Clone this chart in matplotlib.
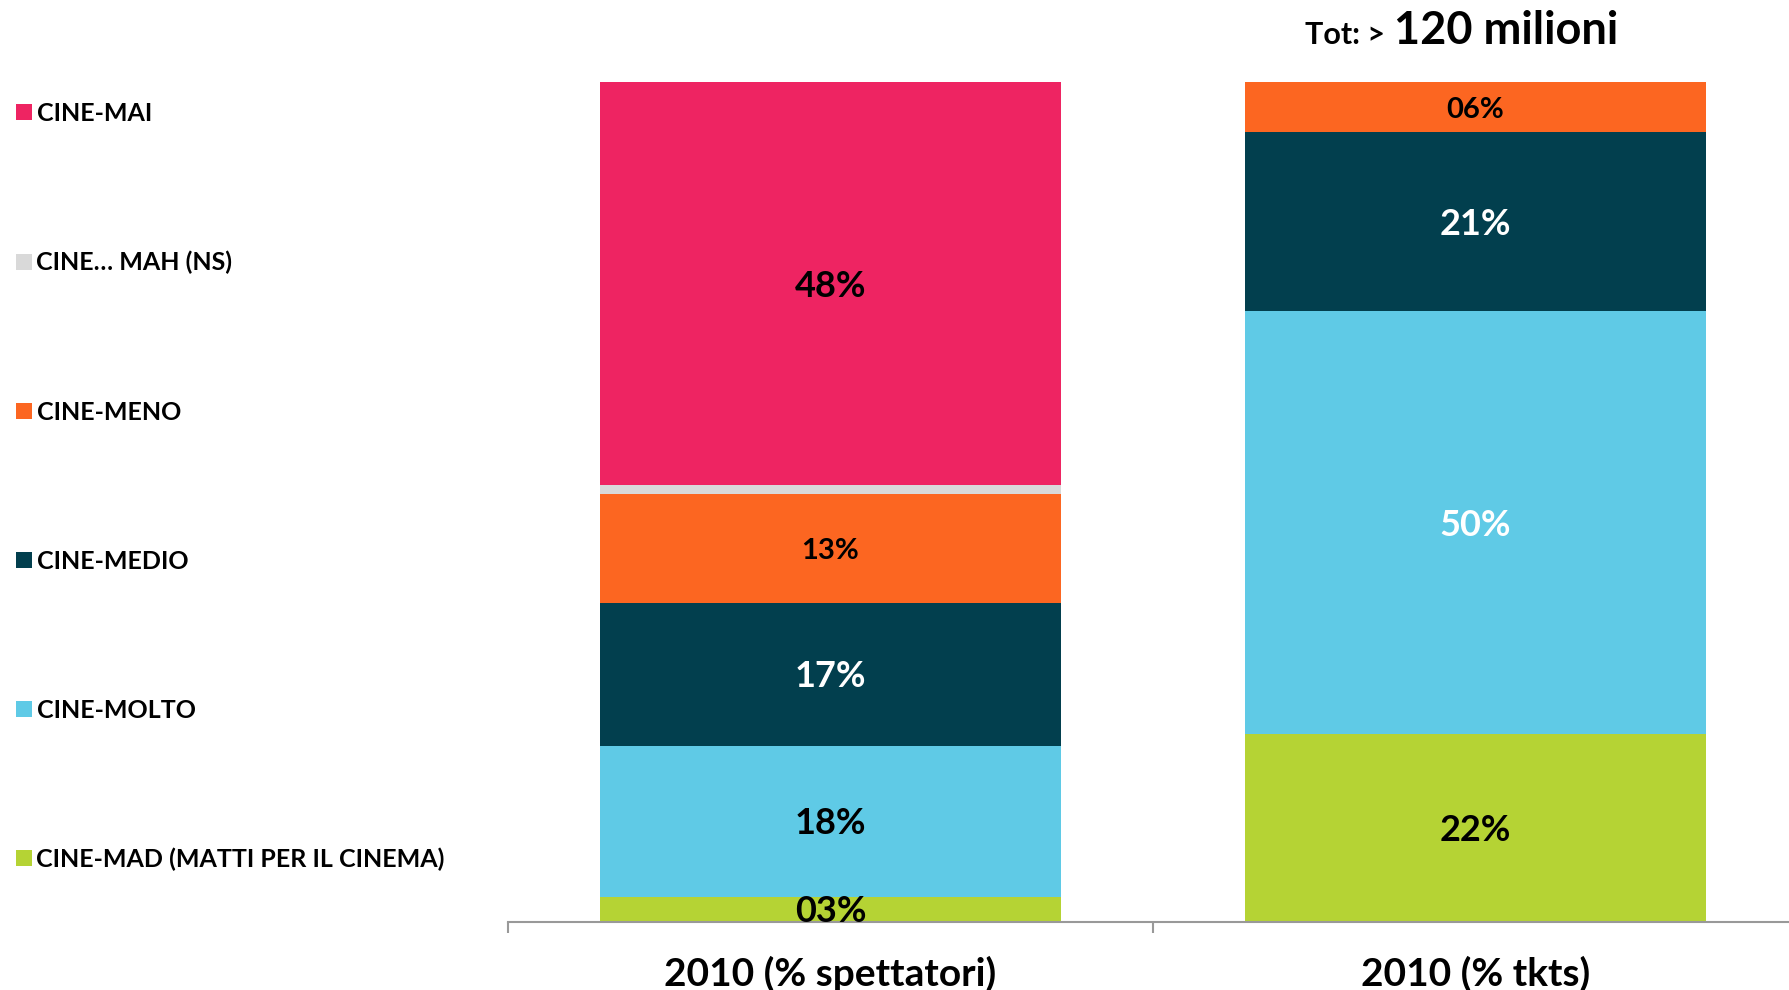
import matplotlib.pyplot as plt
import numpy as np

plt.rcParams['font.family'] = ['Lato', 'DejaVu Sans']
plt.rcParams['font.weight'] = 'bold'

categories = ['2010 (% spettatori)', '2010 (% tkts)']
series = ['CINE-MAD (MATTI PER IL CINEMA)', 'CINE-MOLTO', 'CINE-MEDIO',
          'CINE-MENO', 'CINE… MAH (NS)', 'CINE-MAI']
spettatori = [3, 18, 17, 13, 1, 48]
tkts = [22.4, 50.3, 21.3, 6.0, 0, 0]
title_small = 'Tot: >'
title_big = '120 milioni'

colors = ['#B5D334', '#5FCAE6', '#023F4E', '#FC6621', '#D9D9D9', '#EE2462']
# label colour per series, [left bar, right bar]
label_colors = [['black', 'black'], ['black', 'white'], ['white', 'white'],
                ['black', 'black'], ['black', 'black'], ['black', 'black']]

fig = plt.figure(figsize=(17.89, 9.9), dpi=100)
ax = fig.add_axes([508 / 1789, 68 / 990, 1290 / 1789, 840 / 990])

x = np.arange(len(categories))
bottom = np.zeros(len(categories))
for i, name in enumerate(series):
    vals = np.array([spettatori[i], tkts[i]])
    ax.bar(x, vals, 0.715, bottom=bottom, color=colors[i], label=name)
    for j, v in enumerate(vals):
        if v < 2:
            continue
        size = 21 if i == 3 else 26
        ax.text(x[j], bottom[j] + v / 2 - 0.3, f'{round(v):02d}%', ha='center',
                va='center', fontsize=size, fontweight='bold',
                color=label_colors[i][j])
    bottom += vals

ax.set_xlim(-0.5, 1.5)
ax.set_ylim(0, 100)
ax.set_yticks([])
for s in ['top', 'right', 'left']:
    ax.spines[s].set_visible(False)
ax.spines['bottom'].set_color('#999999')
ax.spines['bottom'].set_linewidth(1.5)
ax.set_xticks(x, categories, fontsize=28, fontweight='bold')
ax.tick_params(axis='x', which='major', length=0, pad=24)
ax.set_xticks([-0.5, 0.5, 1.5], minor=True)
ax.tick_params(axis='x', which='minor', length=8, width=1.5, color='#999999')

fig.text(1385 / 1789, 946 / 990, title_small, ha='right', va='baseline',
         fontsize=22, fontweight='bold')
fig.text(1394 / 1789, 946 / 990, title_big, ha='left', va='baseline',
         fontsize=32.5, fontweight='bold')

handles, labels = ax.get_legend_handles_labels()
fig.legend(handles[::-1], labels[::-1], loc='upper left',
           bbox_to_anchor=(16 / 1789, 1 - 102 / 990), frameon=False,
           fontsize=18, handlelength=0.62, handleheight=0.62,
           handletextpad=0.2, labelspacing=5.04, borderpad=0, borderaxespad=0)

fig.savefig('out.png', dpi=100)
